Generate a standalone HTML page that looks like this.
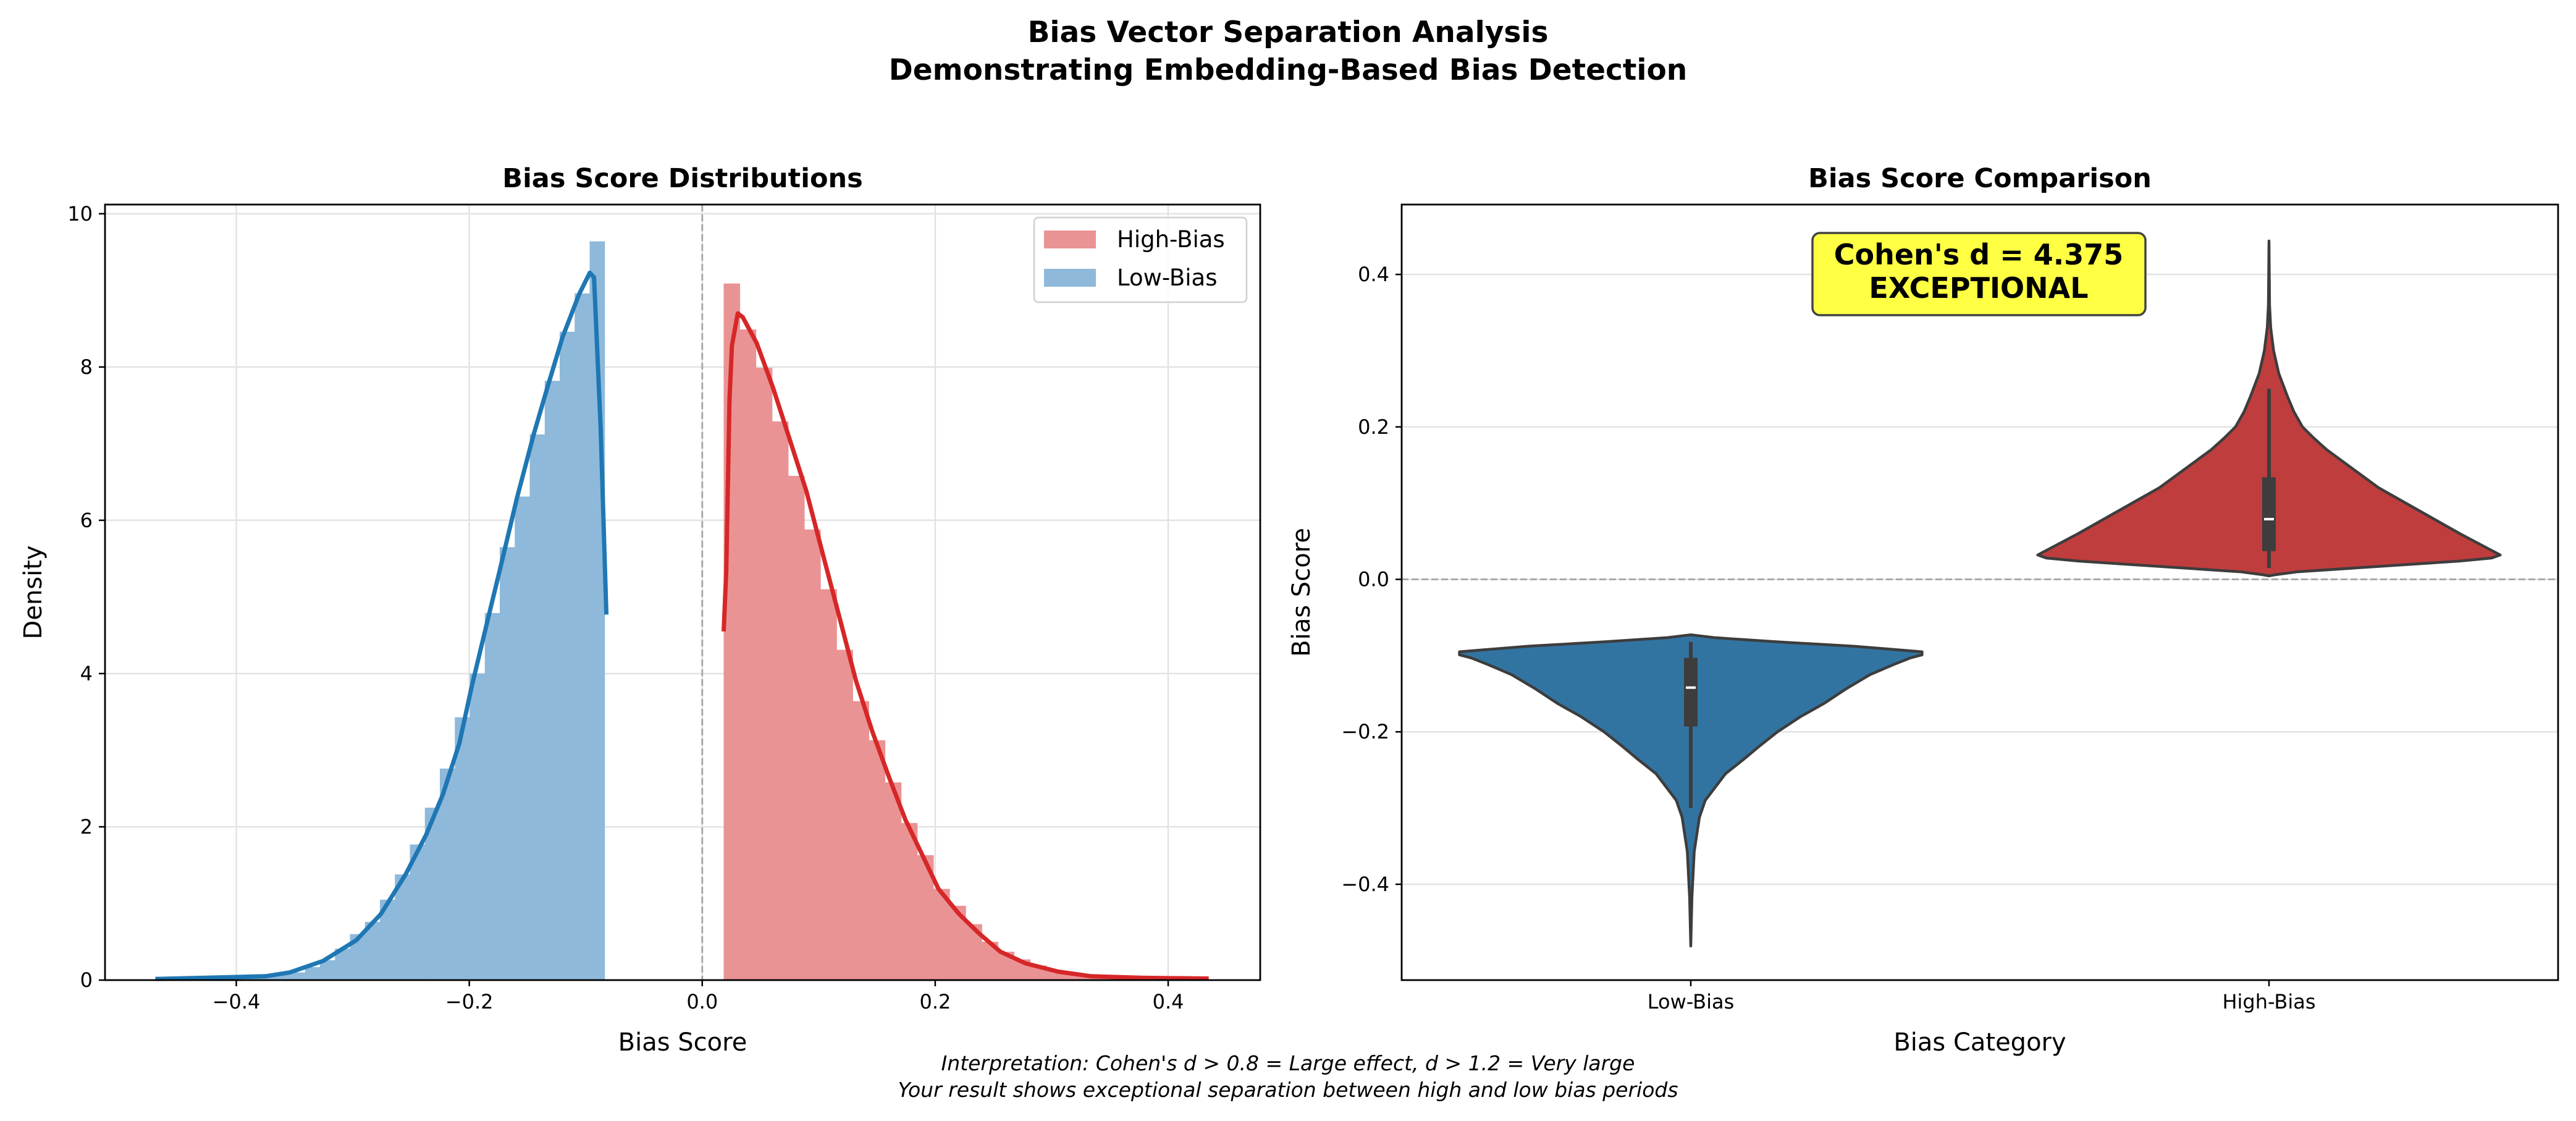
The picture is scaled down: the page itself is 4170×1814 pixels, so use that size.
<!DOCTYPE html>
<html><head><meta charset="utf-8">
<style>
html,body{margin:0;padding:0;background:#fff;}
svg{display:block;font-family:"DejaVu Sans","Liberation Sans",sans-serif;}
</style></head>
<body>
<svg id="fig" width="4170" height="1814" viewBox="0 0 4170 1814" xmlns="http://www.w3.org/2000/svg">
<rect width="4170" height="1814" fill="#fff"/>
<text x="2085" y="68" text-anchor="middle" font-size="47" font-weight="bold">Bias Vector Separation Analysis</text>
<text x="2085" y="129" text-anchor="middle" font-size="47" font-weight="bold">Demonstrating Embedding-Based Bias Detection</text>
<g id="left"></g>
<g id="right"></g>
<text x="2085" y="1732" text-anchor="middle" font-size="33" font-style="italic">Interpretation: Cohen's d &gt; 0.8 = Large effect, d &gt; 1.2 = Very large</text>
<text x="2085" y="1775" text-anchor="middle" font-size="33" font-style="italic">Your result shows exceptional separation between high and low bias periods</text>
</svg>
<script>
// ---- Left chart data ----
const lowBinStart = -0.4696;
const lowBinWidth = 0.01286;
const lowDensity = [0.005,0.005,0.01,0.01,0.02,0.02,0.03,0.05,0.07,0.10,0.17,0.26,0.41,0.60,0.76,1.05,1.38,1.77,2.25,2.76,3.43,4.0,4.79,5.65,6.31,7.12,7.82,8.46,8.96,9.64];
const highBinStart = 0.0184;
const highBinWidth = 0.01385;
const highDensity = [9.09,8.49,7.99,7.29,6.58,5.88,5.10,4.31,3.64,3.13,2.58,2.05,1.63,1.19,0.97,0.73,0.50,0.37,0.27,0.19,0.13,0.08,0.05,0.03,0.02,0.01,0.01,0.005,0.005,0.005];
const lowKdeX = [-0.4695,-0.375,-0.354,-0.3255,-0.297,-0.276,-0.2546,-0.2369,-0.2227,-0.2085,-0.1979,-0.1837,-0.173,-0.1589,-0.1447,-0.1326,-0.1199,-0.1057,-0.0965,-0.0929,-0.0872,-0.0823];
const lowKdeY = [0.015,0.05,0.1,0.25,0.52,0.86,1.38,1.90,2.42,3.09,3.83,4.73,5.4,6.3,7.12,7.75,8.39,8.95,9.23,9.17,7.2,4.77];
const highKdeX = [0.0184,0.0206,0.0234,0.0255,0.0305,0.0348,0.0468,0.061,0.0752,0.0894,0.1035,0.1177,0.1319,0.1461,0.1603,0.1745,0.1887,0.2028,0.2206,0.2383,0.256,0.2773,0.3057,0.334,0.3766,0.4348];
const highKdeY = [4.55,5.33,7.57,8.28,8.70,8.65,8.31,7.72,7.05,6.38,5.56,4.74,3.91,3.24,2.65,2.09,1.64,1.19,0.86,0.60,0.37,0.22,0.11,0.05,0.03,0.02];
const leftXTicks = [-0.4,-0.2,0.0,0.2,0.4];
const leftXTickLabels = ["\u22120.4","\u22120.2","0.0","0.2","0.4"];
const leftYTicks = [0,2,4,6,8,10];
const leftYTickLabels = ["0","2","4","6","8","10"];
// ---- Right chart data ----
const categories = ["Low-Bias","High-Bias"];
const lowViolinY = [-0.0727,-0.0745,-0.0764,-0.082,-0.0876,-0.095,-0.099,-0.103,-0.112,-0.125,-0.143,-0.163,-0.18,-0.2,-0.218,-0.237,-0.255,-0.275,-0.29,-0.312,-0.357,-0.417,-0.481];
const lowViolinW = [0,0.02,0.04,0.15,0.28,0.40,0.40,0.38,0.35,0.31,0.27,0.23,0.19,0.15,0.12,0.09,0.06,0.04,0.025,0.015,0.006,0.002,0];
const highViolinY = [0.444,0.36,0.33,0.30,0.27,0.24,0.22,0.20,0.185,0.17,0.145,0.12,0.105,0.09,0.075,0.06,0.048,0.04,0.032,0.028,0.024,0.02,0.015,0.01,0.006,0.0045];
const highViolinW = [0,0.001,0.003,0.008,0.017,0.032,0.043,0.058,0.078,0.1,0.145,0.19,0.225,0.26,0.295,0.33,0.36,0.38,0.40,0.385,0.33,0.25,0.15,0.05,0.01,0];
const lowBox = [-0.3,-0.193,-0.142,-0.103,-0.082];   // whisker-lo, q1, median, q3, whisker-hi
const highBox = [0.015,0.037,0.079,0.134,0.25];
const rightYTicks = [-0.4,-0.2,0.0,0.2,0.4];
const rightYTickLabels = ["\u22120.4","\u22120.2","0.0","0.2","0.4"];

const NS = "http://www.w3.org/2000/svg";
function mk(parent, tag, attrs, text){
  const e = document.createElementNS(NS, tag);
  for (const k in attrs) e.setAttribute(k, attrs[k]);
  if (text !== undefined) e.textContent = text;
  parent.appendChild(e);
  return e;
}

// ===== LEFT =====
const L = document.getElementById('left');
const lx0=170, lx1=2040, ly0=331, ly1=1586;
const lxMin=-0.5127, lxMax=0.479, lyMin=0, lyMax=10.12;
const sxL = v => lx0 + (v-lxMin)/(lxMax-lxMin)*(lx1-lx0);
const syL = v => ly1 - (v-lyMin)/(lyMax-lyMin)*(ly1-ly0);

leftXTicks.forEach((t,i)=>{
  const g = mk(L,'line',{x1:sxL(t),x2:sxL(t),y1:ly0,y2:ly1,stroke:'#e3e3e3','stroke-width':2.5});
  
  
  const tk = mk(L,'line',{x1:sxL(t),x2:sxL(t),y1:ly1,y2:ly1+10,stroke:'#000','stroke-width':2.5});
  
  
  const lb = mk(L,'text',{x:sxL(t),y:ly1+46,'text-anchor':'middle','font-size':32},leftXTickLabels[i]);
  
  
});
leftYTicks.forEach((t,i)=>{
  const g = mk(L,'line',{x1:lx0,x2:lx1,y1:syL(t),y2:syL(t),stroke:'#e3e3e3','stroke-width':2.5});
  
  
  const tk = mk(L,'line',{x1:lx0-10,x2:lx0,y1:syL(t),y2:syL(t),stroke:'#000','stroke-width':2.5});
  
  
  const lb = mk(L,'text',{x:lx0-20,y:syL(t)+11,'text-anchor':'end','font-size':32},leftYTickLabels[i]);
  
  
});
lowDensity.forEach((d,i)=>{
  const xa = lowBinStart + i*lowBinWidth;
  const r = mk(L,'rect',{x:sxL(xa),y:syL(d),width:sxL(xa+lowBinWidth)-sxL(xa)+0.5,height:syL(0)-syL(d),fill:'#8fb9da'});
  
  
});
highDensity.forEach((d,i)=>{
  const xa = highBinStart + i*highBinWidth;
  const r = mk(L,'rect',{x:sxL(xa),y:syL(d),width:sxL(xa+highBinWidth)-sxL(xa)+0.5,height:syL(0)-syL(d),fill:'#ea9394'});
  
  
});
const zl = mk(L,'line',{x1:sxL(0),x2:sxL(0),y1:ly0,y2:ly1,stroke:'#aaa','stroke-width':3,'stroke-dasharray':'11 5'});


const lk = mk(L,'polyline',{points:lowKdeX.map((x,i)=>sxL(x)+','+syL(lowKdeY[i])).join(' '),fill:'none',stroke:'#1f77b4','stroke-width':7,'stroke-linejoin':'round'});


const hk = mk(L,'polyline',{points:highKdeX.map((x,i)=>sxL(x)+','+syL(highKdeY[i])).join(' '),fill:'none',stroke:'#d62728','stroke-width':7,'stroke-linejoin':'round'});


const lf = mk(L,'rect',{x:lx0,y:ly0,width:lx1-lx0,height:ly1-ly0,fill:'none',stroke:'#000','stroke-width':2.8});


const lt = mk(L,'text',{x:(lx0+lx1)/2,y:303,'text-anchor':'middle','font-size':43,'font-weight':'bold'},'Bias Score Distributions');


const lxl = mk(L,'text',{x:(lx0+lx1)/2,y:1700,'text-anchor':'middle','font-size':40},'Bias Score');


const lyl = mk(L,'text',{x:0,y:0,'text-anchor':'middle','font-size':40,transform:'translate(67,'+((ly0+ly1)/2)+') rotate(-90)'},'Density');


// legend
const lg = mk(L,'g',{});


mk(lg,'rect',{x:1674,y:352,width:344,height:137,rx:7,fill:'#fff','fill-opacity':0.8,stroke:'#d0d0d0','stroke-width':2.5});
const le1 = mk(lg,'g',{});


mk(le1,'rect',{x:1690,y:373,width:84,height:29,fill:'#ea9394'});
mk(le1,'text',{x:1808,y:400,'font-size':37},'High-Bias');
const le2 = mk(lg,'g',{});


mk(le2,'rect',{x:1690,y:435,width:84,height:29,fill:'#8fb9da'});
mk(le2,'text',{x:1808,y:462,'font-size':37},'Low-Bias');

// ===== RIGHT =====
const R = document.getElementById('right');
const rx0=2269, rx1=4141, ry0=331, ry1=1586;
const rxMin=-0.5, rxMax=1.5, ryMin=-0.5257, ryMax=0.4917;
const sxR = v => rx0 + (v-rxMin)/(rxMax-rxMin)*(rx1-rx0);
const syR = v => ry1 - (v-ryMin)/(ryMax-ryMin)*(ry1-ry0);

rightYTicks.forEach((t,i)=>{
  const g = mk(R,'line',{x1:rx0,x2:rx1,y1:syR(t),y2:syR(t),stroke:'#e3e3e3','stroke-width':2.5});
  
  
  const tk = mk(R,'line',{x1:rx0-10,x2:rx0,y1:syR(t),y2:syR(t),stroke:'#000','stroke-width':2.5});
  
  
  const lb = mk(R,'text',{x:rx0-20,y:syR(t)+11,'text-anchor':'end','font-size':32},rightYTickLabels[i]);
  
  
});
categories.forEach((c,i)=>{
  const tk = mk(R,'line',{x1:sxR(i),x2:sxR(i),y1:ry1,y2:ry1+10,stroke:'#000','stroke-width':2.5});
  
  
  const lb = mk(R,'text',{x:sxR(i),y:ry1+46,'text-anchor':'middle','font-size':32},c);
  
  
});
const zr = mk(R,'line',{x1:rx0,x2:rx1,y1:syR(0),y2:syR(0),stroke:'#aaa','stroke-width':3,'stroke-dasharray':'11 5'});



function violin(pos, ys, ws, fill, name){
  const right = ys.map((y,i)=>sxR(pos+ws[i])+','+syR(y));
  const left = ys.map((y,i)=>sxR(pos-ws[i])+','+syR(y)).reverse();
  const p = mk(R,'polygon',{points:right.concat(left).join(' '),fill:fill,stroke:'#3d3d3d','stroke-width':4.5,'stroke-linejoin':'round'});
  
  
}
function box(pos, b, name){
  const cx = sxR(pos);
  const w = mk(R,'line',{x1:cx,x2:cx,y1:syR(b[0]),y2:syR(b[4]),stroke:'#3d3d3d','stroke-width':6});
  
  
  const r = mk(R,'rect',{x:cx-11,y:syR(b[3]),width:22,height:syR(b[1])-syR(b[3]),fill:'#3d3d3d'});
  
  
  const m = mk(R,'line',{x1:cx-8,x2:cx+8,y1:syR(b[2]),y2:syR(b[2]),stroke:'#fff','stroke-width':4});
  
  
}
violin(0, lowViolinY, lowViolinW, '#3274a1', 'low-bias-violin');
violin(1, highViolinY, highViolinW, '#c03d3e', 'high-bias-violin');
box(0, lowBox, 'low-bias');
box(1, highBox, 'high-bias');

const rf = mk(R,'rect',{x:rx0,y:ry0,width:rx1-rx0,height:ry1-ry0,fill:'none',stroke:'#000','stroke-width':2.8});


const rt = mk(R,'text',{x:(rx0+rx1)/2,y:303,'text-anchor':'middle','font-size':43,'font-weight':'bold'},'Bias Score Comparison');


const rxl = mk(R,'text',{x:(rx0+rx1)/2,y:1700,'text-anchor':'middle','font-size':40},'Bias Category');


const ryl = mk(R,'text',{x:0,y:0,'text-anchor':'middle','font-size':40,transform:'translate(2120,'+((ry0+ry1)/2)+') rotate(-90)'},'Bias Score');


const ann = mk(R,'g',{});


mk(ann,'rect',{x:2934,y:377,width:539,height:133,rx:12,fill:'#ffff44',stroke:'#444','stroke-width':3.5});
mk(ann,'text',{x:3203,y:428,'text-anchor':'middle','font-size':46,'font-weight':'bold'},"Cohen's d = 4.375");
mk(ann,'text',{x:3203,y:482,'text-anchor':'middle','font-size':46,'font-weight':'bold'},'EXCEPTIONAL');
</script>
</body></html>
